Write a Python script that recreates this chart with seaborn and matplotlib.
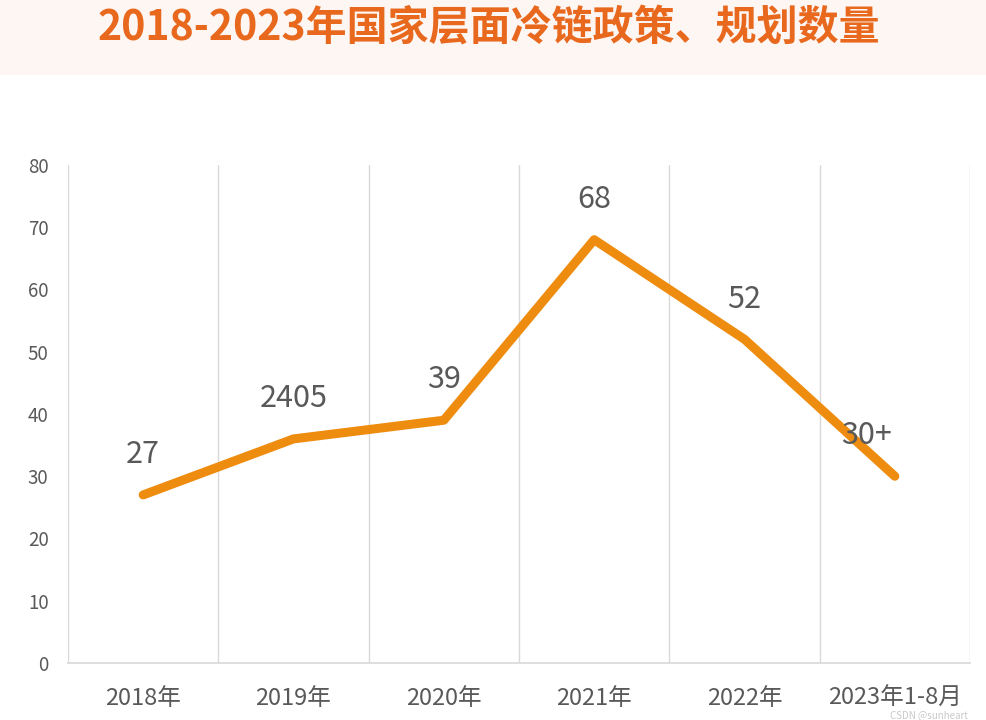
import numpy as np
import pandas as pd
import seaborn as sns
import matplotlib.pyplot as plt

# chart data
years = ['2018年', '2019年', '2020年', '2021年', '2022年', '2023年1-8月']
counts = [27, 36, 39, 68, 52, 30]
point_labels = ['27', '2405', '39', '68', '52', '30+']
y_ticks = [0, 10, 20, 30, 40, 50, 60, 70, 80]

sns.set_theme(style='white')
plt.rcParams['font.family'] = ['Noto Sans CJK SC', 'DejaVu Sans']

df = pd.DataFrame({'pos': np.arange(len(years)), 'count': counts})

fig = plt.figure(figsize=(9.86, 7.2), dpi=100)

# light title band
band = fig.add_axes([0, 1 - 75 / 720, 1, 75 / 720])
band.set_facecolor('#fdf6f3')
band.set_xticks([])
band.set_yticks([])
for s in band.spines.values():
    s.set_visible(False)
fig.text(0.496, 1 - 28 / 720, '2018-2023年国家层面冷链政策、规划数量', ha='center', va='center',
         fontsize=29.5, fontweight='bold', color='#e8681e')

ax = fig.add_axes([68 / 986, 1 - 663 / 720, (970 - 68) / 986, (663 - 165) / 720])
sns.lineplot(data=df, x='pos', y='count', ax=ax, color='#ee8c10', linewidth=6.5)

ax.set_xlim(-0.5, len(years) - 0.5)
ax.set_ylim(0, 80)
ax.set_yticks(y_ticks)
ax.set_xticks(df['pos'])
ax.set_xticklabels(years)
ax.set_xticks(np.arange(-0.5, len(years), 1), minor=True)
ax.grid(False)
ax.grid(True, axis='x', which='minor', color='#d9d9d9', linewidth=1)
ax.tick_params(axis='both', which='both', length=0)
ax.tick_params(axis='y', labelsize=13.5, labelcolor='#595959', pad=14)
ax.tick_params(axis='x', labelsize=17, labelcolor='#595959', pad=17)
ax.set_xlabel('')
ax.set_ylabel('')
for side in ['top', 'right', 'left']:
    ax.spines[side].set_visible(False)
ax.spines['bottom'].set_color('#d9d9d9')

# value labels above the points
for i, (v, lab) in enumerate(zip(counts, point_labels)):
    dx = -0.19 if lab == '30+' else 0
    ax.annotate(lab, (i + dx, v), xytext=(0, 29), textcoords='offset points',
                ha='center', va='center', fontsize=22, color='#595959')

fig.text(968 / 986, 1 - 715 / 720, 'CSDN @sunheart', ha='right', va='center',
         fontsize=7, color='#c8c8c8')

fig.savefig('out.png', dpi=100)
